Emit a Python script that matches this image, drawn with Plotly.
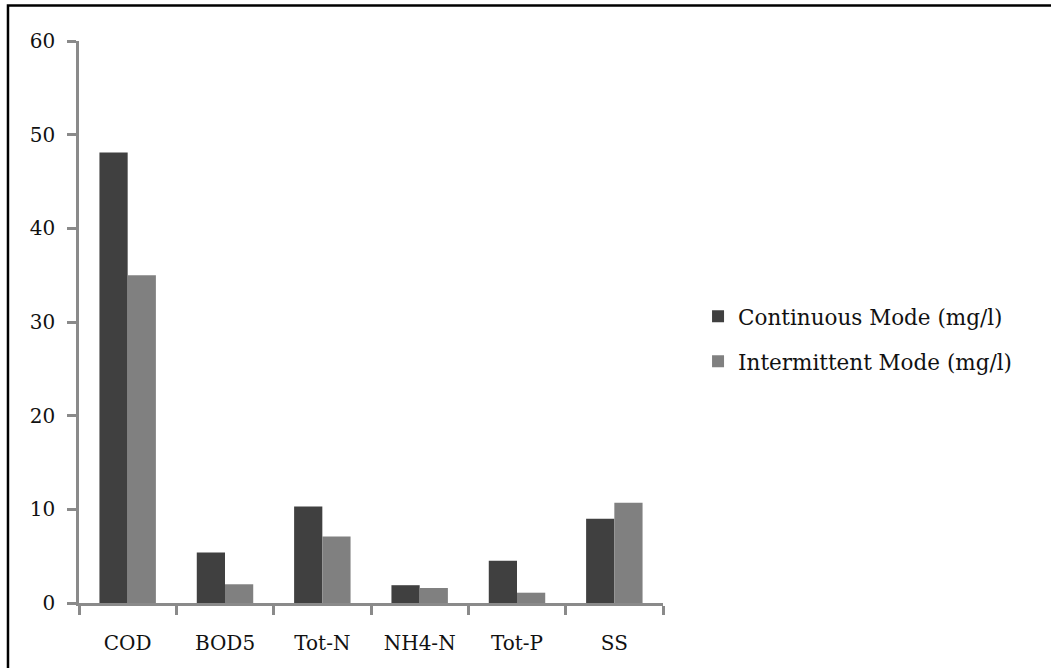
import plotly.graph_objects as go

# Effluent quality by parameter for the two feeding modes
parameters = ["COD", "BOD5", "Tot-N", "NH4-N", "Tot-P", "SS"]
continuous_mode = [48.1, 5.4, 10.3, 1.9, 4.5, 9.0]
intermittent_mode = [35.0, 2.0, 7.1, 1.6, 1.1, 10.7]
y_ticks = [0, 10, 20, 30, 40, 50, 60]

FONT = "DejaVu Serif"
AXIS_GREY = "#8a8a8a"
TEXT = "#111111"

fig = go.Figure()
fig.add_trace(go.Bar(
    x=parameters, y=continuous_mode, name="Continuous Mode (mg/l)",
    marker=dict(color="#404040", line=dict(width=0)), legendgroup="c",
))
fig.add_trace(go.Bar(
    x=parameters, y=intermittent_mode, name="Intermittent Mode (mg/l)",
    marker=dict(color="#808080", line=dict(width=0)), legendgroup="i",
))

fig.update_layout(
    width=1051, height=668,
    margin=dict(l=79, r=388, t=41, b=64.5),
    paper_bgcolor="white", plot_bgcolor="white",
    barmode="group", bargap=0.42, bargroupgap=0,
    font=dict(family=FONT, size=21, color=TEXT),
    showlegend=True,
    legend=dict(
        x=1.06, y=0.47, xanchor="left", yanchor="middle",
        font=dict(family=FONT, size=21.5, color=TEXT),
        tracegroupgap=14, itemwidth=30,
        bgcolor="rgba(0,0,0,0)",
    ),
    xaxis=dict(
        showline=True, linecolor=AXIS_GREY, linewidth=2.5,
        ticks="outside", tickcolor=AXIS_GREY, ticklen=9, tickwidth=2.5,
        tickson="boundaries", showgrid=False, zeroline=False,
        ticklabelstandoff=20,
        tickfont=dict(family=FONT, size=20, color=TEXT),
    ),
    yaxis=dict(
        range=[0, 60], tickvals=y_ticks,
        showline=True, linecolor=AXIS_GREY, linewidth=2.5,
        ticks="outside", tickcolor=AXIS_GREY, ticklen=9, tickwidth=2.5,
        showgrid=False, zeroline=False,
        ticklabelstandoff=8,
        tickfont=dict(family=FONT, size=20, color=TEXT),
    ),
    shapes=[dict(
        type="rect", xref="paper", yref="paper",
        x0=-0.1216, x1=1.8, y0=-0.3, y1=1.0633,
        line=dict(color="black", width=2.5), fillcolor="rgba(0,0,0,0)",
        layer="above",
    )],
)

fig.write_html("out.html")
